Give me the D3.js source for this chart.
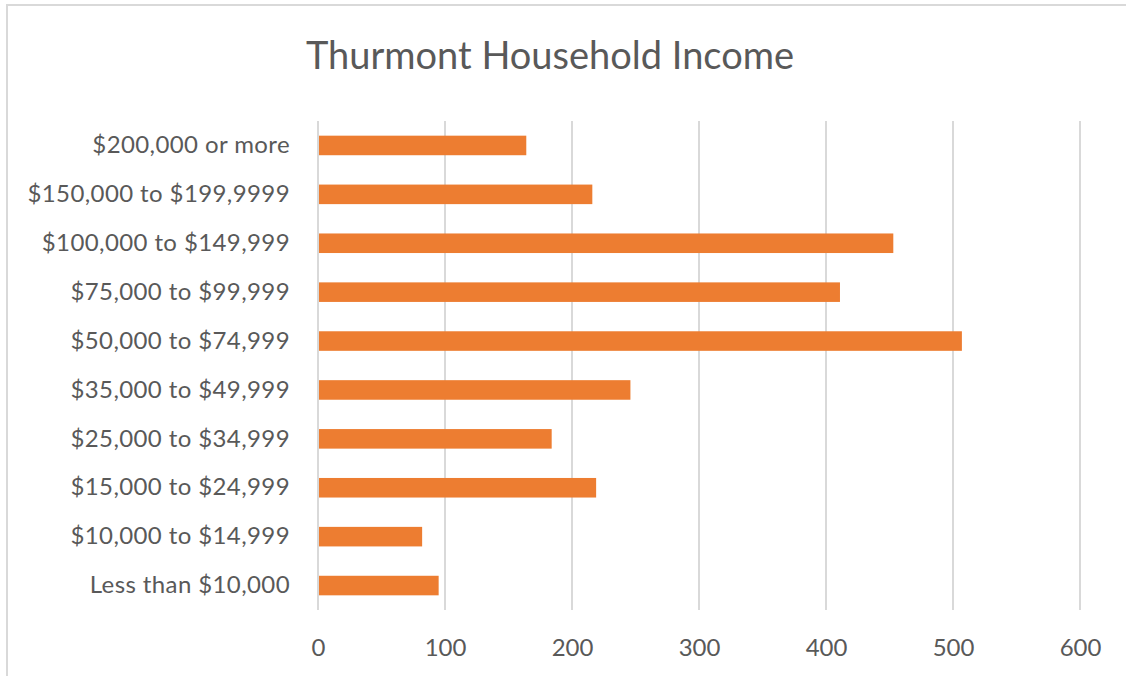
<!DOCTYPE html>
<html>
<head>
<meta charset="utf-8">
<script src="https://cdn.jsdelivr.net/npm/d3@7"></script>
<style>
  body { margin: 0; background: #fff; }
  text { font-family: Lato, "Open Sans", sans-serif; fill: #595959; }
</style>
</head>
<body>
<script>
// income brackets, top of chart first
var categories = ['$200,000 or more', '$150,000 to $199,9999', '$100,000 to $149,999',
  '$75,000 to $99,999', '$50,000 to $74,999', '$35,000 to $49,999',
  '$25,000 to $34,999', '$15,000 to $24,999', '$10,000 to $14,999', 'Less than $10,000'];
var households = [164, 216, 453, 411, 507, 246, 184, 219, 82, 95];
var xTicks = [0, 100, 200, 300, 400, 500, 600];
var chartTitle = 'Thurmont Household Income';

var width = 1126, height = 676;
var margin = { top: 121, right: 46, bottom: 66, left: 318 };

var svg = d3.select('body').append('svg').attr('width', width).attr('height', height);

// chart border (only top and left show in the picture)
svg.append('line').attr('x1', 6).attr('x2', width).attr('y1', 5).attr('y2', 5)
  .attr('stroke', '#d9d9d9').attr('stroke-width', 2);
svg.append('line').attr('x1', 7).attr('x2', 7).attr('y1', 5).attr('y2', height)
  .attr('stroke', '#d9d9d9').attr('stroke-width', 2);

var x = d3.scaleLinear().domain([0, 600]).range([margin.left, width - margin.right]);
var y = d3.scaleBand().domain(categories)
  .range([margin.top, height - margin.bottom])
  .paddingInner(0.6).paddingOuter(0.3);

// gridlines
svg.append('g').selectAll('line')
  .data(xTicks)
  .enter()
  .append('line')
  .attr('x1', function (d) { return x(d); })
  .attr('x2', function (d) { return x(d); })
  .attr('y1', margin.top)
  .attr('y2', height - margin.bottom)
  .attr('stroke', '#d9d9d9')
  .attr('stroke-width', 2);

// bars
svg.append('g').selectAll('rect')
  .data(households)
  .enter()
  .append('rect')
  .attr('x', x(0) + 1)
  .attr('y', function (d, i) { return y(categories[i]); })
  .attr('width', function (d) { return x(d) - x(0) - 1; })
  .attr('height', y.bandwidth())
  .attr('fill', '#ed7d31');

// x axis labels
var xAxis = d3.axisBottom(x).tickValues(xTicks).tickSize(0).tickPadding(0);
var gx = svg.append('g').attr('transform', 'translate(0,' + (height - margin.bottom) + ')').call(xAxis);
gx.select('.domain').remove();
gx.selectAll('text').attr('dy', null).attr('y', 46).style('font-size', '24px').attr('fill', '#595959');

// y axis labels
var yAxis = d3.axisLeft(y).tickSize(0).tickPadding(28);
var gy = svg.append('g').attr('transform', 'translate(' + margin.left + ',0)').call(yAxis);
gy.select('.domain').remove();
gy.selectAll('text').style('font-size', '24px').style('letter-spacing', '0.4px').attr('fill', '#595959');

// title
svg.append('text')
  .attr('x', 550)
  .attr('y', 69)
  .attr('text-anchor', 'middle')
  .style('font-size', '38px')
  .text(chartTitle);
</script>
</body>
</html>
